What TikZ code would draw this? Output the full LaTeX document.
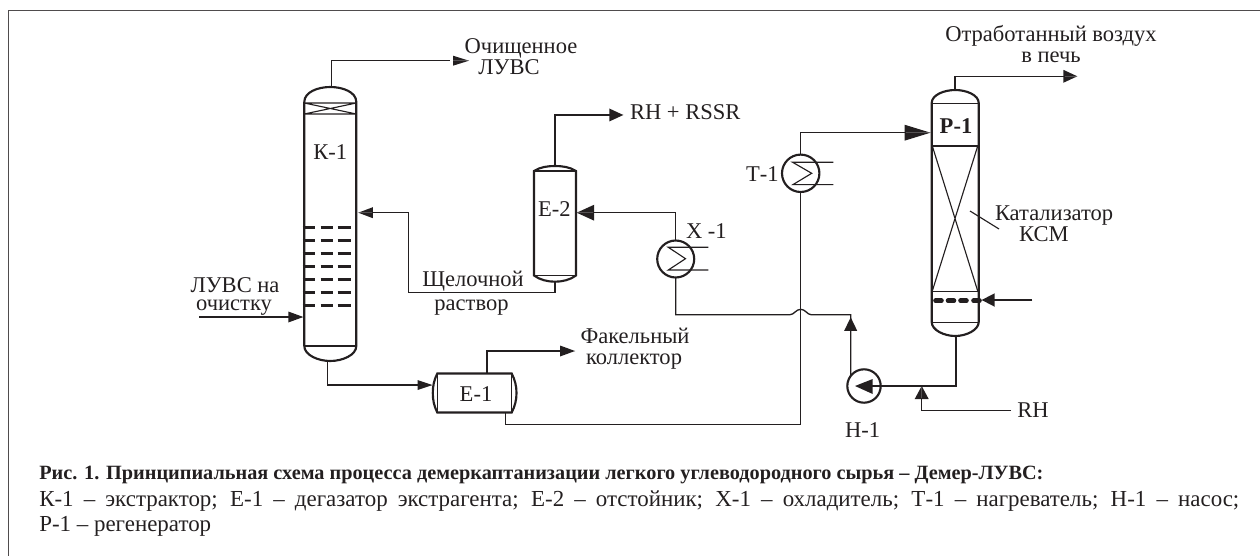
\documentclass[tikz,border=0pt]{standalone}
\usepackage{fontspec}
\setmainfont{Liberation Serif}
\usetikzlibrary{calc}
\definecolor{ink}{HTML}{231F20}
\tikzset{
  x=0.75pt,y=-0.75pt,
  eq/.style 2 args={minimum width=#1*0.75pt,minimum height=#2*0.75pt,inner sep=0pt,outer sep=0pt,draw=none},
  wall/.style={draw=ink,line width=1.6pt},
  thin line/.style={draw=ink,line width=0.85pt},
  flow/.style={draw=ink,line width=1pt},
  lab/.style={inner sep=0pt,outer sep=0pt,text=ink,font=\fontsize{16.9pt}{18pt}\selectfont,anchor=base},
  labl/.style={lab,anchor=base west},
  captxt/.style={inner sep=0pt,outer sep=0pt,text=ink,anchor=base west,font=\fontsize{17.2pt}{18pt}\selectfont},
}
\newcommand{\headat}[4]{\fill[ink] (#1) -- ++(#2+180:#3) -- ++(#2+90:#4/2) -- cycle;\fill[ink] (#1) -- ++(#2+180:#3) -- ++(#2-90:#4/2) -- cycle;}
\begin{document}
\begin{tikzpicture}
\useasboundingbox (0,0) rectangle (1260,556);
% frame
\draw[draw=ink!80,line width=1.1pt] (8.5,556) -- (8.5,10.7) -- (1260,10.7);

% --- nodes
\node[eq={52}{274}] (K1) at (330.3,224) {};
\node[eq={42}{115.7}] (E2) at (555,223.8) {};
\node[eq={82.7}{39.4}] (E1) at (474.7,393) {};
\node[eq={47}{246}] (P1) at (955.2,213) {};
\node[eq={37}{37},circle] (X1) at (675.7,259) {};
\node[eq={37.4}{37.4},circle] (T1) at (800.7,173.3) {};
\node[eq={33.4}{33.4},circle] (H1) at (864,386) {};
\coordinate (ochO) at (469,60.7);
\coordinate (rssrO) at (623.3,115);
\coordinate (fakO) at (575,351);
\coordinate (airO) at (1077.3,76.3);
\coordinate (luvsIn) at (199.3,317);
\coordinate (airIn) at (1032.3,300);
\coordinate (rhIn) at (1011,410.7);
\coordinate (rhJ) at (921.7,386);
\coordinate (hopL) at (790,314.7);
\coordinate (hopR) at (811,314.7);
\coordinate (xJ) at (850.7,314.7);
\coordinate (k1top) at (331.7,87);
\coordinate (k1bot) at (327.7,361);
\coordinate (h1up) at (850.7,376);

% --- K-1 vessel
\draw[wall] (304.3,346) -- (304.3,102) .. controls (304.3,92) and (318,87) .. (330.3,87) .. controls (342.6,87) and (356.3,92) .. (356.3,102) -- (356.3,346) .. controls (356.3,355) and (342.6,361) .. (330.3,361) .. controls (318,361) and (304.3,355) .. (304.3,346);
\draw[thin line] (304.3,346) -- (356.3,346);
\draw[thin line] (304.3,103) -- (356.3,103) (304.3,114) -- (356.3,114) (304.3,103) -- (356.3,114) (304.3,114) -- (356.3,103);
\foreach \yy in {227.5,240.5,253.5,266.5,279.5,292.5,305.5}{
  \draw[ink,line width=1.9pt] (302.7,\yy) -- (315,\yy) (320.7,\yy) -- (333,\yy) (337.7,\yy) -- (351,\yy);
}
\node[labl] at (313.3,160) {К-1};

% --- E-2 vessel
\draw[wall] (534,171) .. controls (540,167) and (548,166) .. (555,166) .. controls (562,166) and (570,167) .. (576,171) -- (576,275.5) .. controls (570,280) and (562,281.7) .. (555,281.7) .. controls (548,281.7) and (540,280) .. (534,275.5) -- cycle;
\draw[thin line] (534,171) -- (576,171) (534,275.5) -- (576,275.5);
\node[labl] at (538,216.7) {Е-2};

% --- E-1 vessel
\draw[wall] (437.3,373.5) -- (511.7,373.5) .. controls (515,380) and (516.5,386) .. (516.5,393) .. controls (516.5,400) and (515,406) .. (511.7,412.5) -- (437.3,412.5) .. controls (434,406) and (432.8,400) .. (432.8,393) .. controls (432.8,386) and (434,380) .. (437.3,373.5) -- cycle;
\draw[thin line] (437.3,373.5) -- (437.3,412.5) (511.7,373.5) -- (511.7,412.5);
\node[lab] at (476,401) {Е-1};

% --- P-1 vessel
\draw[wall] (931.7,103) .. controls (931.7,95) and (944,90) .. (955.2,90) .. controls (966.4,90) and (978.7,95) .. (978.7,103) -- (978.7,322) .. controls (978.7,330) and (966.4,336) .. (955.2,336) .. controls (944,336) and (931.7,330) .. (931.7,322) -- cycle;
\draw[thin line] (931.7,103.3) -- (978.7,103.3) (931.7,146) -- (978.7,146) (931.7,322.3) -- (978.7,322.3);
\draw[thin line] (932.3,146) -- (977.7,291) (977.7,146) -- (932.3,291);
\draw[draw=ink,line width=1.1pt] (931.7,291.5) -- (978.7,291.5);
\draw[ink,line width=3.4pt,line cap=round] (935.5,300.7) -- (941.5,300.7) (948,300.7) -- (954,300.7) (960.5,300.7) -- (966.5,300.7) (973.5,300.7) -- (979.5,300.7);
\node[lab,font=\fontsize{16.9pt}{18pt}\selectfont\bfseries] at (956,133.3) {Р-1};
\draw[thin line] (970,211) -- (999,229);
\node[labl] at (995,220.7) {Катализатор};
\node[labl] at (1019,241.7) {КСМ};

% --- heat exchangers
\draw[wall] (X1) circle[radius=18.5];
\draw[thin line] (708.3,247.3) -- (668.3,247.3) -- (685.5,258.7) -- (668.3,270) -- (708.3,270);
\draw[wall] (T1) circle[radius=18.7];
\draw[thin line] (833.3,162.2) -- (792.5,162.2) -- (811.7,173.3) -- (793,184.6) -- (833.3,184.6);
% --- pump
\draw[wall] (H1) circle[radius=16.7];
\fill[ink] (855,386) -- (872.7,379) -- (872.7,394) -- cycle;

% --- connectors
\draw[flow] (k1top) |- ($(ochO)+(-19,0)$);
\headat{ochO}{0}{16}{10}
\draw[flow] (E2.north) |- ($(rssrO)+(-10,0)$);
\headat{rssrO}{0}{14}{13}
\draw[flow] (E2.south) -- (555,292.5) -- (408.7,292.5) -- (408.7,212.7) -- (372,212.7);
\headat{358.3,212.7}{180}{14.5}{11}
\draw[flow] (luvsIn) -- (290,317);
\headat{303.3,317}{0}{15}{11}
\draw[flow] (k1bot) |- (419,385);
\headat{432.5,385}{0}{15}{10}
\draw[flow] (487,373.5) |- ($(fakO)+(-14,0)$);
\headat{fakO}{0}{15}{11}
\draw[flow] (505.3,412.5) |- (800.7,424.3) -- (T1.south);
\draw[flow] (T1.north) |- (906,132.7);
\headat{930.5,132.7}{0}{26}{16}
\draw[flow] (955,90) |- ($(airO)+(-12,0)$);
\headat{airO}{0}{14}{13}
\draw[flow] (X1.north) |- (593,212.7);
\headat{576.7,212.7}{180}{17.5}{16}
\draw[flow] (X1.south) |- (hopL) .. controls (794,314.7) and (796,309.3) .. (800.7,309.3) .. controls (805.4,309.3) and (807.4,314.7) .. (hopR) -- (xJ) -- (h1up);
\headat{850.7,317.3}{-90}{13.5}{13}
\draw[flow] (956,336) |- (H1.east);
\draw[flow] (881,386) -- (868,386);
\draw[flow] (rhIn) -| (921.7,398);
\headat{rhJ}{-90}{13}{14}
\draw[flow] (airIn) -- (994,300);
\headat{981.7,300}{180}{13}{13.5}

% --- labels
\node[lab] at (521,53.3) {Очищенное};
\node[lab] at (509,75) {ЛУВС};
\node[labl] at (630,119.3) {RH + RSSR};
\node[labl] at (686,238.3) {Х -1};
\node[labl] at (746,181) {Т-1};
\node[lab] at (1051,41.7) {Отработанный воздух};
\node[lab] at (1051,62.7) {в печь};
\node[lab] at (235,292.7) {ЛУВС на};
\node[lab] at (234,310.7) {очистку};
\node[lab] at (473,286) {Щелочной};
\node[lab] at (471.5,310.7) {раствор};
\node[lab] at (635,343.3) {Факельный};
\node[lab] at (634,364.3) {коллектор};
\node[labl] at (1017.3,417.7) {RH};
\node[labl] at (845,437.7) {Н-1};

% --- caption
\node[captxt,font=\fontsize{15.2pt}{18pt}\selectfont\bfseries] at (39.3,479.3) {Рис. 1. Принципиальная схема процесса демеркаптанизации легкого углеводородного сырья – Демер-ЛУВС:};
\node[captxt] at (39.3,506) {\makebox[900pt][s]{К-1 – экстрактор; Е-1 – дегазатор экстрагента; Е-2 – отстойник; Х-1 – охладитель; Т-1 – нагреватель; Н-1 – насос;}};
\node[captxt] at (39.3,531.7) {Р-1 – регенератор};
\end{tikzpicture}
\end{document}
